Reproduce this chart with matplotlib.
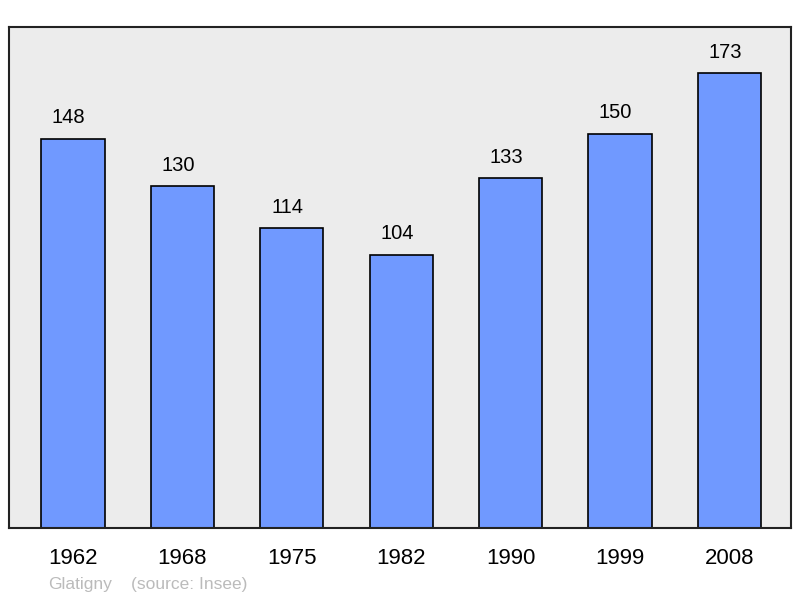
import numpy as np
import matplotlib.pyplot as plt

plt.rcParams['font.family'] = ['Liberation Sans', 'DejaVu Sans']

years = ['1962', '1968', '1975', '1982', '1990', '1999', '2008']
population = [148, 130, 114, 104, 133, 150, 173]

fig = plt.figure(figsize=(8, 5.98), dpi=100)
ax = fig.add_axes([9/800, 70/598, 782/800, 501/598])
ax.set_facecolor('#ececec')

x = np.arange(len(years))
ax.bar(x, population, width=0.576, color='#7099ff', edgecolor='black',
       linewidth=1.2, zorder=2)
# value labels sit a bit left of the bar centre, as in the original
for xi, v in zip(x, population):
    ax.text(xi - 0.04, v + 8.0, str(v), ha='center', va='center', fontsize=14.5,
            color='black')

ax.set_xlim(-0.585, 6.563)
ax.set_ylim(0, 190.6)
ax.set_yticks([])
ax.set_xticks([])
for xi, lab in zip(x, years):
    ax.text(xi, -11.6, lab, ha='center', va='center', fontsize=16, color='black',
            clip_on=False)
for s in ax.spines.values():
    s.set_linewidth(1.5)
    s.set_color('#222222')

fig.text(48/800, 1 - 584/598, 'Glatigny', fontsize=12.5, color='#bbbbbb',
         ha='left', va='center')
fig.text(131/800, 1 - 584/598, '(source: Insee)', fontsize=12.5, color='#bbbbbb',
         ha='left', va='center')

fig.savefig('out.png', dpi=100)
